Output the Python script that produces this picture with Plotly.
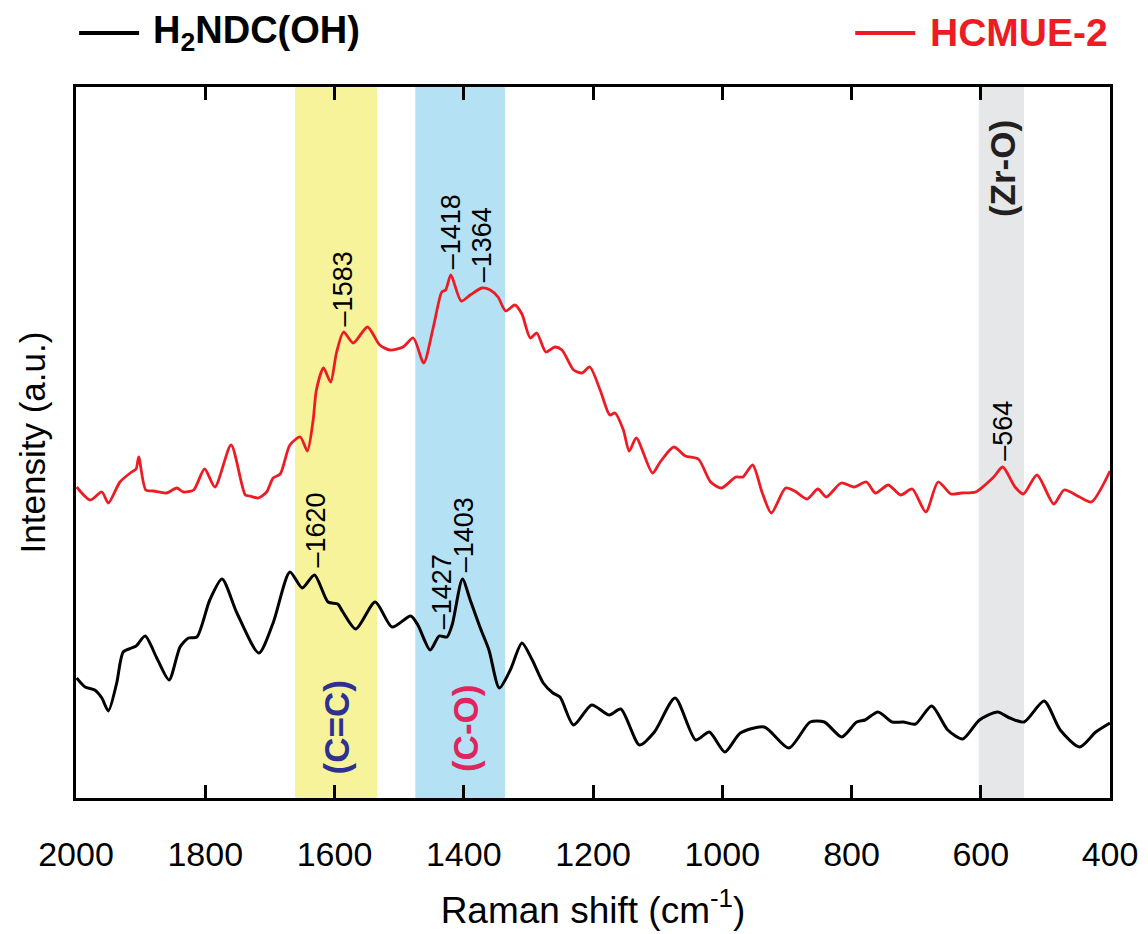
import plotly.graph_objects as go

# ---------------- data ----------------
hcmue_x = [1999, 1978, 1960, 1950, 1932, 1914, 1907, 1903, 1892, 1880, 1860, 1844, 1834, 1818,
           1801, 1785, 1760, 1738, 1731, 1718, 1705, 1695, 1684, 1669, 1653, 1642, 1633, 1628,
           1617, 1606, 1597, 1586, 1571, 1549, 1530, 1514, 1494, 1478, 1462, 1447, 1434, 1428,
           1420, 1404, 1390, 1372, 1359, 1347, 1335, 1321, 1310, 1297, 1287, 1273, 1259, 1248,
           1230, 1217, 1205, 1189, 1174, 1166, 1153, 1144, 1133, 1108, 1096, 1075, 1057, 1037,
           1018, 1001, 979, 968, 953, 938, 924, 902, 888, 869, 852, 839, 816, 796, 777, 763,
           743, 724, 706, 685, 666, 646, 630, 608, 580, 566, 547, 534, 513, 487, 471, 447, 429, 400]
hcmue_y = [311, 298, 306, 295, 316, 326, 329, 341, 308, 307, 305, 310, 306, 308,
           329, 311, 353, 303, 302, 300, 306, 320, 324, 353, 361, 347, 378, 408,
           430, 416, 445, 466, 455, 471, 453, 448, 451, 460, 435, 471, 506, 508,
           523, 497, 503, 510, 508, 501, 487, 493, 484, 460, 465, 446, 451, 448,
           428, 425, 431, 408, 383, 385, 368, 347, 360, 325, 336, 351, 342, 339,
           316, 310, 321, 321, 333, 305, 285, 310, 307, 299, 309, 301, 315, 311, 316, 305,
           313, 303, 309, 286, 316, 304, 305, 306, 321, 331, 311, 304, 323, 294, 308, 301, 296, 327]

ligand_x = [1999, 1986, 1971, 1960, 1950, 1937, 1927, 1914, 1907, 1893, 1875, 1856, 1839, 1826,
            1813, 1793, 1774, 1751, 1717, 1695, 1669, 1650, 1631, 1610, 1595, 1587, 1567, 1537,
            1511, 1482, 1471, 1452, 1438, 1426, 1418, 1402, 1390, 1375, 1361, 1345, 1328, 1310,
            1294, 1277, 1262, 1251, 1230, 1202, 1175, 1157, 1128, 1105, 1073, 1041, 1020, 996,
            972, 935, 897, 864, 842, 815, 792, 779, 759, 737, 720, 701, 676, 651, 628, 602,
            574, 555, 533, 502, 477, 447, 422, 400]
ligand_y = [120, 111, 108, 100, 87, 115, 146, 150, 152, 162, 140, 118, 151, 160,
            161, 198, 219, 185, 145, 175, 226, 210, 223, 196, 194, 186, 169, 196,
            171, 182, 173, 148, 162, 161, 173, 219, 198, 171, 148, 110, 128, 155,
            138, 115, 105, 101, 73, 93, 83, 89, 53, 66, 100, 58, 66, 46,
            65, 71, 50, 76, 76, 61, 76, 78, 86, 76, 76, 74, 92, 68, 59, 78,
            86, 80, 76, 97, 68, 51, 66, 75]

series_names = ["H<sub>2</sub>NDC(OH)", "HCMUE-2"]
series_colors = ["#000000", "#ED1C24"]

# shaded bands (cm-1)
band_lo = [1534, 1336, 533]
band_hi = [1661, 1475, 603]
band_colors = ["#F6F39B", "#B4E1F3", "#E6E7E8"]
band_labels = ["(C=C)", "(C-O)", "(Zr-O)"]
band_label_colors = ["#2E3192", "#E0245E", "#231F20"]
band_label_x = [1597, 1398, 567]
band_label_y = [71, 69, 629]

# peak labels
red_peak_txt = ["1583", "1418", "1364", "564"]
red_peak_x = [1587, 1420, 1372, 566]
red_peak_y = [468, 525, 512, 333]
blk_peak_txt = ["1620", "1427", "1403"]
blk_peak_x = [1630, 1434, 1400]
blk_peak_y = [226, 165, 222]

x_ticks = [2000, 1800, 1600, 1400, 1200, 1000, 800, 600, 400]

SANS = "Liberation Sans, Arial, Helvetica, sans-serif"

fig = go.Figure()

fig.add_trace(go.Scatter(x=ligand_x, y=ligand_y, mode="lines",
                         line=dict(color=series_colors[0], width=3, shape="spline", smoothing=0.7),
                         showlegend=False))
fig.add_trace(go.Scatter(x=hcmue_x, y=hcmue_y, mode="lines",
                         line=dict(color=series_colors[1], width=2.8, shape="spline", smoothing=0.7),
                         showlegend=False))

for lo, hi, c in zip(band_lo, band_hi, band_colors):
    fig.add_shape(type="rect", xref="x", yref="y domain", x0=lo, x1=hi, y0=0, y1=1,
                  fillcolor=c, line=dict(width=0), layer="below")

for t, x, y, c in zip(band_labels, band_label_x, band_label_y, band_label_colors):
    fig.add_annotation(x=x, y=y, xref="x", yref="y", text=t, textangle=-90, showarrow=False,
                       xanchor="center", yanchor="middle",
                       font=dict(family=SANS, size=35, color=c, weight="bold"))

for txt, xs, ys in ((red_peak_txt, red_peak_x, red_peak_y), (blk_peak_txt, blk_peak_x, blk_peak_y)):
    for t, x, y in zip(txt, xs, ys):
        fig.add_annotation(x=x, y=y, xref="x", yref="y", text="\u2013" + t, textangle=-90,
                           showarrow=False, xanchor="center", yanchor="bottom", yshift=2,
                           font=dict(family=SANS, size=27, color="#000000"))

# legend drawn manually (line + label), paper coordinates
fig.add_shape(type="line", xref="paper", yref="paper", x0=0.003, x1=0.061, y0=1.076, y1=1.076,
              line=dict(color=series_colors[0], width=4))
fig.add_annotation(xref="paper", yref="paper", x=0.073, y=1.076, text=series_names[0],
                   showarrow=False, xanchor="left", yanchor="middle",
                   font=dict(family=SANS, size=38, color=series_colors[0], weight="bold"))
fig.add_shape(type="line", xref="paper", yref="paper", x0=0.7536, x1=0.8116, y0=1.076, y1=1.076,
              line=dict(color=series_colors[1], width=4))
fig.add_annotation(xref="paper", yref="paper", x=0.824, y=1.076, text=series_names[1],
                   showarrow=False, xanchor="left", yanchor="middle",
                   font=dict(family=SANS, size=39, color=series_colors[1], weight="bold"))

# the page body adds an 8 px offset; size/margins compensate so the plot box lands where the reference has it
fig.update_layout(
    width=1140, height=926,
    margin=dict(l=68, r=38, t=79, b=136),
    paper_bgcolor="white", plot_bgcolor="white",
    showlegend=False,
    xaxis=dict(range=[2000, 400], tickvals=x_ticks, ticks="inside", ticklen=13, tickwidth=2.5,
               tickcolor="#000", showline=True, linecolor="#000", linewidth=2.5, mirror="ticks",
               showgrid=False, zeroline=False, automargin=False, ticklabelstandoff=24,
               tickfont=dict(family=SANS, size=34, color="#000"),
               title=dict(text="Raman shift (cm<sup>-1</sup>)", standoff=26,
                          font=dict(family=SANS, size=37, color="#000"))),
    yaxis=dict(range=[0, 711], showticklabels=False, ticks="", showline=True, linecolor="#000",
               linewidth=2.5, mirror=True, showgrid=False, zeroline=False, automargin=False,
               title=dict(text="Intensity (a.u.)", standoff=18,
                          font=dict(family=SANS, size=35, color="#000"))),
)

fig.write_html("out.html")
